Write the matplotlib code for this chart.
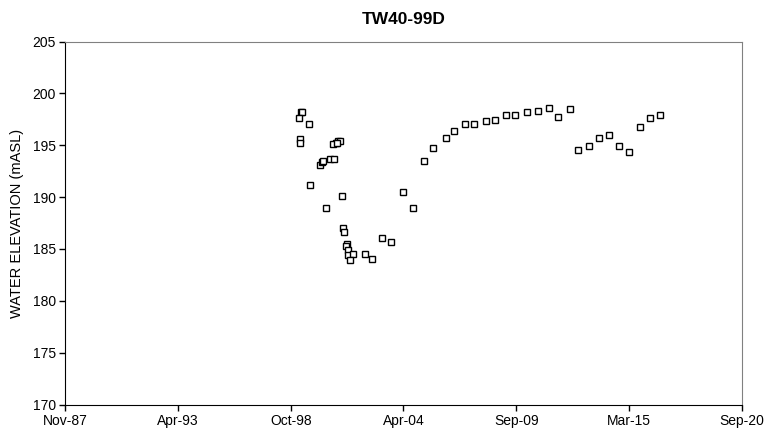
import matplotlib
matplotlib.use('Agg')
import matplotlib.pyplot as plt
import matplotlib.dates as mdates
import pandas as pd

plt.rcParams['font.family'] = ['Liberation Sans', 'DejaVu Sans']

sample_dates = [
    '1999-04-13', '1999-04-25', '1999-03-14', '1999-08-28', '1999-03-21', '1999-03-26',
    '2001-02-03', '2001-03-05', '2000-12-24', '2000-11-06', '2001-01-16',
    '2000-03-10', '2000-04-14', '2000-05-02', '2000-09-03', '2000-11-24',
    '1999-09-20', '2001-04-15', '2000-06-30', '2001-04-28', '2001-05-21',
    '2001-07-02', '2001-06-20', '2001-07-20', '2001-07-25', '2001-10-17',
    '2001-08-24', '2002-05-18', '2002-09-19', '2003-03-26', '2003-09-02',
    '2004-03-28', '2004-09-16', '2005-03-30', '2005-09-11', '2006-04-24',
    '2006-09-25', '2007-04-07', '2007-09-09', '2008-04-09', '2008-09-10',
    '2009-04-04', '2009-09-11', '2010-04-07', '2010-10-24', '2011-05-02',
    '2011-10-03', '2012-05-03', '2012-09-22', '2013-04-06', '2013-09-30',
    '2014-03-26', '2014-09-20', '2015-03-27', '2015-09-28', '2016-03-20',
    '2016-09-23',
]
water_elev = [
    198.19, 198.2, 197.67, 197.09, 195.61, 195.23,
    195.42, 195.42, 195.23, 195.1, 195.26,
    193.11, 193.42, 193.49, 193.68, 193.65,
    191.15, 190.14, 188.99, 187.03, 186.64,
    185.51, 185.29, 184.93, 184.45, 184.49,
    183.94, 184.52, 184.07, 186.03, 185.68,
    190.47, 188.96, 193.52, 194.77, 195.74,
    196.39, 197.06, 197.06, 197.38, 197.48,
    197.93, 197.96, 198.19, 198.34, 198.58,
    197.76, 198.54, 194.52, 194.91, 195.68,
    196.0, 194.91, 194.31, 196.74, 197.61,
    197.93,
]

dates = pd.to_datetime(sample_dates)
x_start = pd.Timestamp('1987-11-01')
x_ticks = pd.date_range(x_start, periods=7, freq='2000D')

fig = plt.figure(figsize=(7.7, 4.33), dpi=100)
ax = fig.add_axes([0.085, 0.0658, 0.878, 0.838])

ax.plot(dates, water_elev, linestyle='none', marker='s', markersize=5,
        markerfacecolor='white', markeredgecolor='black', markeredgewidth=1)

ax.set_xlim(x_ticks[0], x_ticks[-1])
ax.set_xticks(x_ticks)
ax.xaxis.set_major_formatter(mdates.DateFormatter('%b-%y'))
ax.set_ylim(170, 205)
ax.set_yticks(range(170, 206, 5))

ax.spines['top'].set_color('#808080')
ax.spines['right'].set_color('#808080')
ax.tick_params(direction='out', length=4, width=1, labelsize=10, pad=3)

ax.set_ylabel('WATER ELEVATION (mASL)', fontsize=10.5, labelpad=6)
ax.set_title('TW40-99D', fontsize=12.5, fontweight='bold', pad=13)

fig.savefig('out.png', dpi=100)
